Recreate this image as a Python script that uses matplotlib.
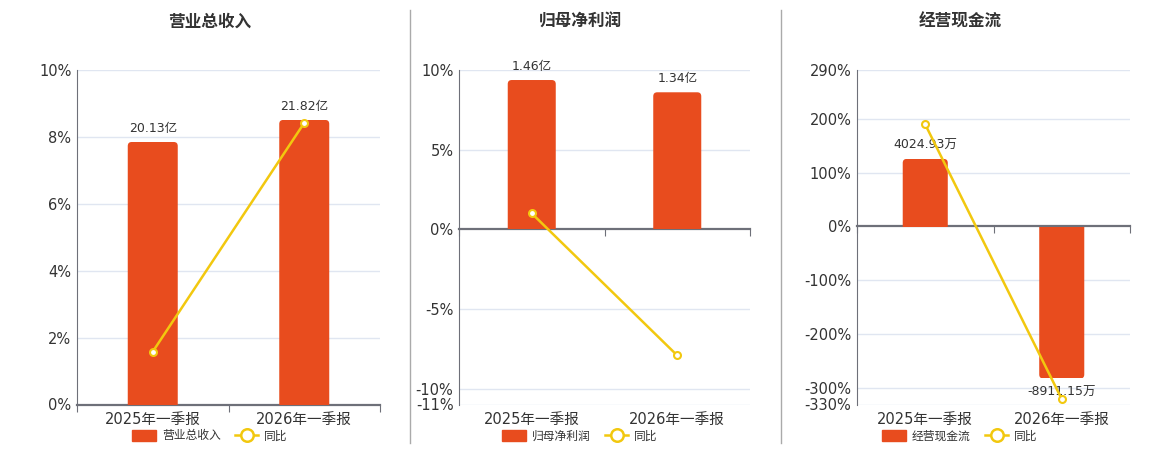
import matplotlib.pyplot as plt
import matplotlib.transforms as mtrans
from matplotlib.patches import Patch, FancyBboxPatch, Rectangle
from matplotlib.lines import Line2D

plt.rcParams['font.family'] = ['DejaVu Sans', 'Noto Sans CJK SC']

periods = ['2025年一季报', '2026年一季报']

# 营业总收入 (亿) and YoY %
revenue = [20.13, 21.82]
revenue_labels = ['20.13亿', '21.82亿']
revenue_yoy = [1.58, 8.42]

# 归母净利润 (亿) and YoY %
profit = [1.46, 1.34]
profit_labels = ['1.46亿', '1.34亿']
profit_yoy = [1.0, -7.92]

# 经营现金流 (万) and YoY %
cashflow = [4024.93, -8911.15]
cashflow_labels = ['4024.93万', '-8911.15万']
cashflow_yoy = [189.0, -320.0]

BAR = '#E84C1E'
LINE = '#F2C80F'
AXIS = '#6E7079'
GRID = '#E0E6F1'
TXT = '#333333'

panels = [
    dict(title='营业总收入', vals=revenue, labels=revenue_labels, yoy=revenue_yoy,
         rect=[77, 380], pct_lim=(0, 10), pct_ticks=[0, 2, 4, 6, 8, 10],
         bar_lim=(0, 25.65), center=210),
    dict(title='归母净利润', vals=profit, labels=profit_labels, yoy=profit_yoy,
         rect=[459, 750], pct_lim=(-11, 10), pct_ticks=[-11, -10, -5, 0, 5, 10],
         bar_lim=(-1.715, 1.558), center=580),
    dict(title='经营现金流', vals=cashflow, labels=cashflow_labels, yoy=cashflow_yoy,
         rect=[857, 1130], pct_lim=(-330, 290), pct_ticks=[-330, -300, -200, -100, 0, 100, 200, 290],
         bar_lim=(-10443, 9263), center=960),
]

W, H = 1160, 450
fig = plt.figure(figsize=(W / 100, H / 100), dpi=100)

top_px, bot_px = 70, 404.5
x = [0, 1]
bar_w = 0.33
radius_px = 4

for p in panels:
    l, r = p['rect']
    ax = fig.add_axes([l / W, 1 - bot_px / H, (r - l) / W, (bot_px - top_px) / H])
    ax.set_xlim(-0.5, 1.5)
    ax.set_ylim(*p['pct_lim'])
    ax.set_yticks(p['pct_ticks'])
    ax.set_yticklabels([f'{t}%' for t in p['pct_ticks']])
    ax.tick_params(axis='y', length=0, labelsize=10.5, labelcolor=TXT, pad=4)
    for t in p['pct_ticks']:
        if t != 0:
            ax.axhline(t, color=GRID, lw=1, zorder=0)
    for s in ['top', 'right']:
        ax.spines[s].set_visible(False)
    ax.spines['left'].set_color(AXIS)
    ax.spines['bottom'].set_color(AXIS)
    ax.spines['bottom'].set_linewidth(1.6)
    ax.spines['bottom'].set_position(('data', 0))
    ax.set_xticks([-0.5, 0.5, 1.5])
    ax.set_xticklabels([])
    ax.tick_params(axis='x', length=5, color=AXIS, direction='out')
    trans = mtrans.blended_transform_factory(ax.transData, ax.transAxes)
    for i, name in enumerate(periods):
        ax.text(i, -0.045, name, transform=trans, ha='center', va='center',
                fontsize=10.5, color=TXT)

    # bars on their own hidden scale, rounded only at the far end
    axb = ax.twinx()
    b0, b1 = p['bar_lim']
    axb.set_ylim(b0, b1)
    axb.axis('off')
    x_per_px = 2.0 / (r - l)
    y_per_px = (b1 - b0) / (bot_px - top_px)
    ext = radius_px * 2 * y_per_px
    for i, v in enumerate(p['vals']):
        if v >= 0:
            lo, hi = -ext, v
        else:
            lo, hi = v, ext
        box = FancyBboxPatch((i - bar_w / 2, lo), bar_w, hi - lo,
                             boxstyle=f'round,pad=0,rounding_size={radius_px * x_per_px}',
                             mutation_aspect=y_per_px / x_per_px,
                             facecolor=BAR, edgecolor='none', zorder=2)
        axb.add_patch(box)
        clip = Rectangle((i - bar_w, min(0, v)), bar_w * 2, abs(v), transform=axb.transData)
        box.set_clip_path(clip)
    for i, (v, lab) in enumerate(zip(p['vals'], p['labels'])):
        axb.annotate(lab, (i, v), xytext=(0, 5 if v >= 0 else -5), textcoords='offset points',
                     ha='center', va='bottom' if v >= 0 else 'top', fontsize=9, color=TXT)

    # yoy line on top
    axl = ax.twinx()
    axl.set_ylim(*p['pct_lim'])
    axl.axis('off')
    axl.plot(x, p['yoy'], color=LINE, lw=1.8, marker='o', markersize=5,
             markerfacecolor='white', markeredgecolor=LINE, markeredgewidth=1.5)

    fig.text(p['center'] / W, 1 - 22 / H, p['title'], ha='center', va='center',
             fontsize=12, fontweight='bold', color=TXT,
             family=['Noto Sans CJK SC', 'DejaVu Sans'])

    handles = [Patch(facecolor=BAR, edgecolor=BAR),
               Line2D([0], [0], color=LINE, lw=1.8, marker='o', markersize=9,
                      markerfacecolor='white', markeredgecolor=LINE, markeredgewidth=1.8)]
    fig.legend(handles, [p['title'], '同比'], loc='center',
               bbox_to_anchor=(p['center'] / W, 1 - 436 / H), ncol=2, frameon=False,
               handlelength=2.0, handleheight=1.0, columnspacing=1.2,
               handletextpad=0.5, labelcolor=TXT,
               prop={'family': ['Noto Sans CJK SC', 'DejaVu Sans'], 'size': 8.5})

# panel separators
for xs in [410, 781]:
    fig.add_artist(Line2D([xs / W, xs / W], [1 - 443 / H, 1 - 10 / H], color='#AAAAAA', lw=1))

fig.savefig('out.png', dpi=100)
